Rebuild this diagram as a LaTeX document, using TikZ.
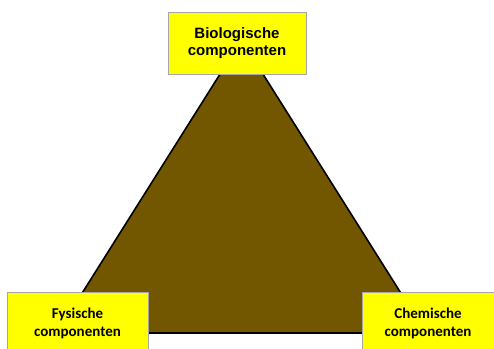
\documentclass[tikz,border=0pt]{standalone}
\usepackage{fontspec}
\setmainfont{Liberation Sans}
\newfontfamily\calibri{Carlito}
\usepackage{tikz}
\usetikzlibrary{calc}
\definecolor{soilbrown}{RGB}{114,86,0}
\definecolor{labelyellow}{RGB}{255,255,0}

\begin{document}
\begin{tikzpicture}[x=1pt, y=-1pt,
    comp/.style={draw=black!35, line width=0.8pt, fill=labelyellow, align=center,
                 font=\bfseries\fontsize{15}{17}\selectfont, inner sep=0pt}]
                    \clip (0, 0) rectangle (494, 348);
                    \useasboundingbox (0, 0) rectangle (494, 348);
                    \coordinate (top) at (241.5, 40);
                    \coordinate (left) at (57, 333);
                    \coordinate (right) at (426, 333);
                    \draw [fill=soilbrown, line width=1.6pt, line join=miter] (top) -- (left) -- (right) -- cycle;
                    \node [comp, minimum width=138, minimum height=62] (bio) at (237, 43) {Biologische\\componenten};
                    \node [comp, minimum width=141, minimum height=62, font=\calibri\bfseries\fontsize{15}{18}\selectfont] (fys) at (77.5, 323) {Fysische\\componenten};
                    \node [comp, minimum width=132, minimum height=62, font=\calibri\bfseries\fontsize{15}{18}\selectfont] (chem) at (428, 323) {Chemische\\componenten};
                \end{tikzpicture}
\end{document}
